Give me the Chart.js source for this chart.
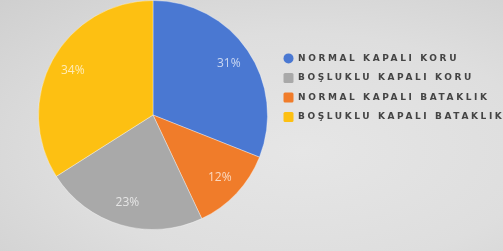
<!DOCTYPE html>
<html>
<head>
<meta charset="utf-8">
<script src="https://cdn.jsdelivr.net/npm/chart.js@4"></script>
<style>
  html, body { margin: 0; padding: 0; }
  body {
    width: 503px; height: 251px; overflow: hidden;
    background: radial-gradient(ellipse at 60% 60%, #e6e6e6 0%, #dedede 55%, #cfcfcf 100%);
  }
  #wrap { width: 503px; height: 251px; position: relative; }
</style>
</head>
<body>
<div id="wrap"><canvas id="myChart"></canvas></div>
<script>
// chart data (slice order as drawn clockwise from the top)
const labels = ["NORMAL KAPALI KORU", "NORMAL KAPALI BATAKLIK", "BOŞLUKLU KAPALI KORU", "BOŞLUKLU KAPALI BATAKLIK"]
const values = [31, 12, 23, 34]
const colors = ["#4a78d2", "#f07c2a", "#a9a9a9", "#fdc012"]
// legend lists the items in another order than the slices
const legendOrder = [0, 2, 1, 3]

const spacing = "2.6px"

// wide legend lettering
const letterSpacingPlugin = {
    id: "letterSpacing",
    beforeLayout(chart) { chart.ctx.letterSpacing = spacing },
    beforeDraw(chart) { chart.ctx.letterSpacing = spacing }
}

// percentage labels inside the slices
const sliceLabels = {
    id: "sliceLabels",
    afterDatasetsDraw(chart) {
        const ctx = chart.ctx
        const meta = chart.getDatasetMeta(0)
        const total = values.reduce((a, b) => a + b, 0)
        ctx.save()
        ctx.letterSpacing = "0px"
        ctx.font = "12px 'Open Sans', sans-serif"
        ctx.fillStyle = "rgba(255,255,255,0.7)"
        ctx.textAlign = "center"
        ctx.textBaseline = "middle"
        meta.data.forEach((arc, i) => {
            const p = arc.getProps(["x", "y", "startAngle", "endAngle", "outerRadius"], true)
            const mid = (p.startAngle + p.endAngle) / 2
            const r = p.outerRadius * 0.8
            const txt = Math.round(values[i] / total * 100) + "%"
            ctx.fillText(txt, p.x + Math.cos(mid) * r, p.y + Math.sin(mid) * r)
        })
        ctx.restore()
    }
}

const ctx = document.getElementById("myChart")
const myChart = new Chart(ctx, {
    type: "pie",
    data: {
        labels: labels,
        datasets: [{
            data: values,
            backgroundColor: colors,
            borderColor: "rgba(255,255,255,0.35)",
            borderWidth: 1
        }]
    },
    options: {
        responsive: true,
        maintainAspectRatio: false,
        animation: false,
        layout: { padding: { left: 32, top: -2, bottom: 21, right: 0 } },
        plugins: {
            tooltip: { enabled: false },
            legend: {
                position: "right",
                align: "start",
                maxWidth: 229,
                title: { display: true, text: "", padding: { top: 31.5, bottom: 0 } },
                labels: {
                    boxWidth: 10,
                    boxHeight: 10,
                    padding: 9.5,
                    color: "#444444",
                    font: { family: "'DejaVu Sans', sans-serif", size: 9, weight: "bold" },
                    generateLabels(chart) {
                        const items = Chart.controllers.pie.overrides.plugins.legend.labels.generateLabels(chart)
                        items.forEach(it => {
                            it.borderRadius = it.index === 0 ? 5 : 1.5
                            it.lineWidth = 0
                        })
                        return items
                    },
                    sort(a, b) {
                        return legendOrder.indexOf(a.index) - legendOrder.indexOf(b.index)
                    }
                }
            }
        }
    },
    plugins: [letterSpacingPlugin, sliceLabels]
})
</script>
</body>
</html>
